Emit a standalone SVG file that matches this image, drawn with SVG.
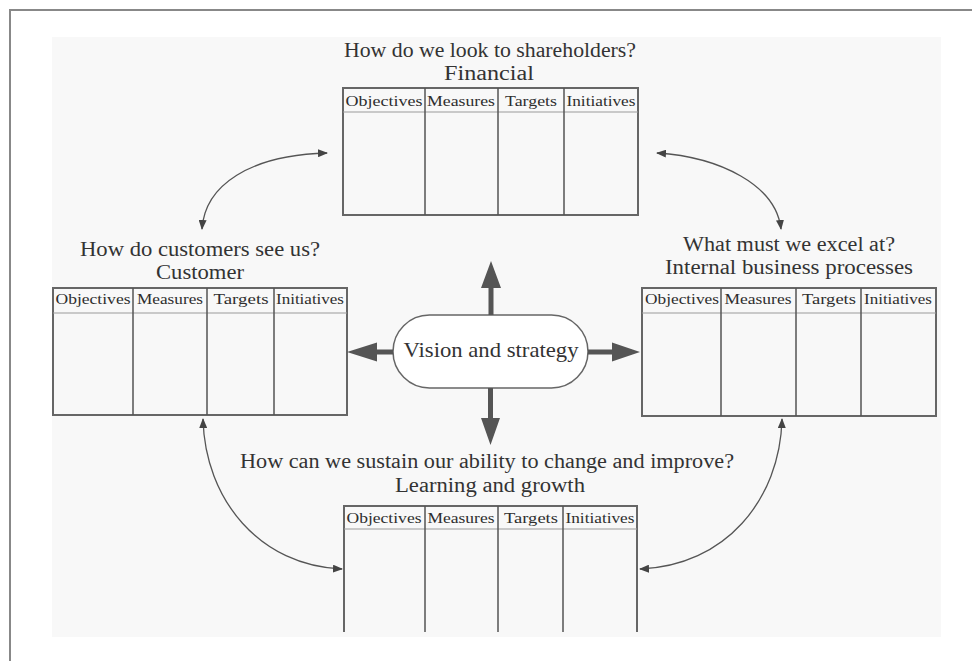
<svg xmlns="http://www.w3.org/2000/svg" width="972" height="661" viewBox="0 0 972 661">
  <style>
    .title { font-family: "Liberation Serif", "Times New Roman", serif; font-size: 20px; fill: #333; text-anchor: middle; }
    .head { font-family: "Liberation Serif", "Times New Roman", serif; font-size: 15.5px; fill: #2e2e2e; text-anchor: middle; }
    .frame { fill: none; stroke: #666; stroke-width: 2; }
    .col { stroke: #555; stroke-width: 1.5; }
    .sep { stroke: #999; stroke-width: 1.2; }
    .link { fill: none; stroke: #555; stroke-width: 1.3; marker-start: url(#tip); marker-end: url(#tip); }
    .big { fill: #555; }
    .vision { fill: #fff; stroke: #666; stroke-width: 1.5; }
  </style>
  <defs>
    <marker id="tip" viewBox="0 0 10 8" refX="9" refY="4" markerWidth="10" markerHeight="8" markerUnits="userSpaceOnUse" orient="auto-start-reverse">
      <path d="M0 0 L10 4 L0 8 Z" fill="#444"/>
    </marker>
  </defs>

  <!-- page -->
  <rect x="0" y="0" width="972" height="661" fill="#fff"/>
  <path d="M10 661 V10 H972" fill="none" stroke="#888" stroke-width="2"/>
  <rect x="52" y="37" width="889" height="600" fill="#f8f8f8"/>

  <!-- Financial -->
  <g id="financial">
    <text class="title" x="490" y="57" textLength="292" lengthAdjust="spacingAndGlyphs">How do we look to shareholders?</text>
    <text class="title" x="489" y="80" textLength="90" lengthAdjust="spacingAndGlyphs">Financial</text>
    <rect class="frame" x="343" y="88" width="295" height="127" fill="#fff"/>
    <line class="sep" x1="343" y1="112" x2="638" y2="112"/>
    <line class="col" x1="425" y1="88" x2="425" y2="215"/>
    <line class="col" x1="498" y1="88" x2="498" y2="215"/>
    <line class="col" x1="564" y1="88" x2="564" y2="215"/>
    <text class="head" x="384" y="106" textLength="77" lengthAdjust="spacingAndGlyphs">Objectives</text>
    <text class="head" x="461" y="106" textLength="68" lengthAdjust="spacingAndGlyphs">Measures</text>
    <text class="head" x="531" y="106" textLength="52" lengthAdjust="spacingAndGlyphs">Targets</text>
    <text class="head" x="601" y="106" textLength="69" lengthAdjust="spacingAndGlyphs">Initiatives</text>
  </g>

  <!-- Customer -->
  <g id="customer">
    <text class="title" x="200" y="256" textLength="240" lengthAdjust="spacingAndGlyphs">How do customers see us?</text>
    <text class="title" x="200" y="279" textLength="88" lengthAdjust="spacingAndGlyphs">Customer</text>
    <rect class="frame" x="53" y="288" width="294" height="127" fill="#fff"/>
    <line class="sep" x1="53" y1="313" x2="347" y2="313"/>
    <line class="col" x1="133" y1="288" x2="133" y2="415"/>
    <line class="col" x1="207" y1="288" x2="207" y2="415"/>
    <line class="col" x1="274" y1="288" x2="274" y2="415"/>
    <text class="head" x="93" y="304" textLength="75" lengthAdjust="spacingAndGlyphs">Objectives</text>
    <text class="head" x="170" y="304" textLength="66" lengthAdjust="spacingAndGlyphs">Measures</text>
    <text class="head" x="241" y="304" textLength="55" lengthAdjust="spacingAndGlyphs">Targets</text>
    <text class="head" x="310" y="304" textLength="68" lengthAdjust="spacingAndGlyphs">Initiatives</text>
  </g>

  <!-- Internal business processes -->
  <g id="internal">
    <text class="title" x="789" y="251" textLength="212" lengthAdjust="spacingAndGlyphs">What must we excel at?</text>
    <text class="title" x="789" y="274" textLength="248" lengthAdjust="spacingAndGlyphs">Internal business processes</text>
    <rect class="frame" x="642" y="288" width="294" height="128" fill="#fff"/>
    <line class="sep" x1="642" y1="313" x2="936" y2="313"/>
    <line class="col" x1="721" y1="288" x2="721" y2="416"/>
    <line class="col" x1="796" y1="288" x2="796" y2="416"/>
    <line class="col" x1="861" y1="288" x2="861" y2="416"/>
    <text class="head" x="682" y="304" textLength="74" lengthAdjust="spacingAndGlyphs">Objectives</text>
    <text class="head" x="758" y="304" textLength="67" lengthAdjust="spacingAndGlyphs">Measures</text>
    <text class="head" x="829" y="304" textLength="54" lengthAdjust="spacingAndGlyphs">Targets</text>
    <text class="head" x="898" y="304" textLength="68" lengthAdjust="spacingAndGlyphs">Initiatives</text>
  </g>

  <!-- Learning and growth -->
  <g id="learning">
    <text class="title" x="487" y="468" textLength="494" lengthAdjust="spacingAndGlyphs">How can we sustain our ability to change and improve?</text>
    <text class="title" x="490" y="492" textLength="190" lengthAdjust="spacingAndGlyphs">Learning and growth</text>
    <path class="frame" d="M344 632 V506 H637 V632" fill="#fff"/>
    <line class="sep" x1="344" y1="529" x2="637" y2="529"/>
    <line class="col" x1="425" y1="506" x2="425" y2="632"/>
    <line class="col" x1="498" y1="506" x2="498" y2="632"/>
    <line class="col" x1="563" y1="506" x2="563" y2="632"/>
    <text class="head" x="384" y="523" textLength="75" lengthAdjust="spacingAndGlyphs">Objectives</text>
    <text class="head" x="461" y="523" textLength="67" lengthAdjust="spacingAndGlyphs">Measures</text>
    <text class="head" x="531" y="523" textLength="54" lengthAdjust="spacingAndGlyphs">Targets</text>
    <text class="head" x="600" y="523" textLength="69" lengthAdjust="spacingAndGlyphs">Initiatives</text>
  </g>

  <!-- Vision and strategy -->
  <g id="vision">
    <rect class="vision" x="393" y="315" width="195" height="73" rx="36.5" ry="36.5"/>
    <text class="title" x="491" y="357" textLength="175" lengthAdjust="spacingAndGlyphs" style="font-size:21px">Vision and strategy</text>
  </g>

  <!-- connectors -->
  <g id="connectors">
    <!-- heavy arrows from the centre -->
    <path class="big" d="M488.5 315 V288 H481 L491 261 L501 288 H493.5 V315 Z"/>
    <path class="big" d="M393 349.5 H377 V342.5 L347 352 L377 361.5 V354.5 H393 Z"/>
    <path class="big" d="M588 349.5 H612 V342.5 L640 352 L612 361.5 V354.5 H588 Z"/>
    <path class="big" d="M488 388 V418 H481 L490.5 445 L500 418 H493 V388 Z"/>
    <!-- curved two-way links between perspectives -->
    <path class="link" d="M202 229 C205 185 250 155 327 153"/>
    <path class="link" d="M657 153 C720 157 776 185 781 229"/>
    <path class="link" d="M203 419 C205 500 260 566 342 569"/>
    <path class="link" d="M782 419 C780 500 725 566 640 569"/>
  </g>
</svg>
